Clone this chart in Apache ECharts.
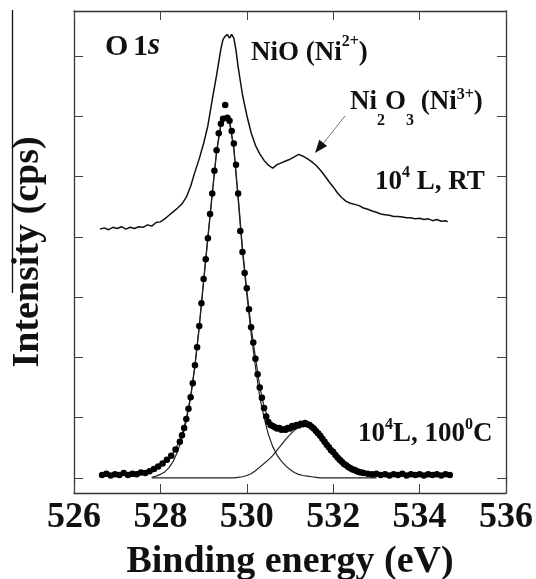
<!DOCTYPE html>
<html>
<head>
<meta charset="utf-8">
<script src="https://cdn.jsdelivr.net/npm/echarts@6.0.0/dist/echarts.min.js"></script>
<style>
html, body { margin: 0; padding: 0; background: #fff; }
#chart { width: 536px; height: 579px; }
</style>
</head>
<body>
<div id="chart"></div>
<script>
// O 1s spectra, intensity in tick units (arbitrary)
const xTicks = [526, 528, 530, 532, 534, 536];
const yTicks = [0, 1, 2, 3, 4, 5, 6, 7];

// 10^4 L, RT spectrum
const rtEnergy = [
  526.6, 526.7, 526.8, 526.9, 527.0, 527.1, 527.2, 527.3, 527.4, 527.5,
  527.6, 527.7, 527.8, 527.9, 528.0, 528.1, 528.2, 528.3, 528.4, 528.5,
  528.6, 528.7, 528.8, 528.9, 529.0, 529.1, 529.2, 529.3, 529.4, 529.45,
  529.5, 529.55, 529.6, 529.65, 529.7, 529.75, 529.8, 529.9, 530.0, 530.1,
  530.2, 530.3, 530.4, 530.5, 530.6, 530.7, 530.8, 530.9, 531.0, 531.1,
  531.2, 531.3, 531.4, 531.5, 531.6, 531.7, 531.8, 531.9, 532.0, 532.1,
  532.2, 532.3, 532.4, 532.5, 532.6, 532.7, 532.8, 532.9, 533.0, 533.1,
  533.2, 533.3, 533.4, 533.5, 533.6, 533.7, 533.8, 533.9, 534.0, 534.1,
  534.2, 534.3, 534.4, 534.5, 534.6, 534.65
];
const rtIntensity = [
  4.13, 4.15, 4.12, 4.16, 4.14, 4.17, 4.13, 4.16, 4.14, 4.17,
  4.16, 4.20, 4.18, 4.24, 4.25, 4.30, 4.36, 4.42, 4.48, 4.55,
  4.66, 4.84, 5.08, 5.30, 5.55, 5.85, 6.28, 6.68, 7.12, 7.28,
  7.33, 7.36, 7.30, 7.36, 7.30, 7.10, 6.82, 6.36, 6.02, 5.73,
  5.52, 5.38, 5.27, 5.19, 5.14, 5.20, 5.23, 5.26, 5.29, 5.33,
  5.37, 5.34, 5.30, 5.25, 5.19, 5.11, 5.02, 4.92, 4.83, 4.73,
  4.65, 4.59, 4.56, 4.54, 4.52, 4.48, 4.46, 4.43, 4.41, 4.38,
  4.37, 4.36, 4.34, 4.34, 4.33, 4.32, 4.32, 4.30, 4.31, 4.29,
  4.30, 4.27, 4.29, 4.26, 4.27, 4.25
];

// 10^4 L, 100 C measured points
const dotEnergy = [
  526.65, 526.75, 526.85, 526.95, 527.05, 527.15, 527.25, 527.35, 527.45, 527.55,
  527.65, 527.75, 527.85, 527.95, 528.05, 528.15, 528.25, 528.35, 528.45,
  528.50, 528.55, 528.60, 528.65, 528.70, 528.75, 528.80, 528.85, 528.90, 528.95,
  529.00, 529.05, 529.10, 529.15, 529.20, 529.25, 529.30, 529.35, 529.40, 529.45,
  529.50, 529.55, 529.60, 529.65, 529.70, 529.75, 529.80, 529.85, 529.90, 529.95,
  530.00, 530.05, 530.10, 530.15, 530.20, 530.25, 530.30, 530.35, 530.40, 530.45,
  530.50, 530.55, 530.60, 530.65, 530.70, 530.75, 530.80, 530.85, 530.90, 530.95,
  531.00, 531.05, 531.10, 531.15, 531.20, 531.25, 531.30, 531.35, 531.40, 531.45,
  531.50, 531.55, 531.60, 531.65, 531.70, 531.75, 531.80, 531.85, 531.90, 531.95,
  532.00, 532.05, 532.10, 532.15, 532.20, 532.25, 532.30, 532.35, 532.40, 532.45,
  532.50, 532.55, 532.60, 532.65, 532.70,
  532.80, 532.90, 533.00, 533.10, 533.20, 533.30, 533.40, 533.50, 533.60, 533.70,
  533.80, 533.90, 534.00, 534.10, 534.20, 534.30, 534.40, 534.50, 534.60, 534.70
];
const dotIntensity = [
  0.05, 0.07, 0.04, 0.06, 0.05, 0.08, 0.05, 0.07, 0.06, 0.09,
  0.08, 0.11, 0.15, 0.19, 0.24, 0.30, 0.37, 0.47, 0.60,
  0.71, 0.83, 0.98, 1.15, 1.34, 1.57, 1.87, 2.17, 2.52, 2.90,
  3.30, 3.63, 3.98, 4.38, 4.72, 5.10, 5.44, 5.72, 5.88, 5.96,
  6.19, 5.98, 5.93, 5.76, 5.55, 5.20, 4.72, 4.10, 3.75, 3.40,
  3.15, 2.80, 2.50, 2.25, 1.98, 1.72, 1.50, 1.33, 1.16, 1.02,
  0.93, 0.88, 0.86, 0.84, 0.82, 0.83, 0.80, 0.81, 0.80, 0.83,
  0.82, 0.86, 0.85, 0.88, 0.87, 0.90, 0.89, 0.91, 0.89, 0.88,
  0.85, 0.82, 0.78, 0.74, 0.70, 0.65, 0.60, 0.55, 0.51, 0.46,
  0.43, 0.38, 0.34, 0.30, 0.27, 0.23, 0.21, 0.18, 0.16, 0.14,
  0.13, 0.11, 0.10, 0.09, 0.08,
  0.07, 0.06, 0.07, 0.05, 0.06, 0.04, 0.06, 0.05, 0.07, 0.04,
  0.06, 0.05, 0.06, 0.04, 0.06, 0.05, 0.06, 0.04, 0.06, 0.05
];

// peak fit
const fitEnergy = [
  527.8, 527.9, 528.0, 528.1, 528.2, 528.3, 528.4, 528.5, 528.6, 528.7,
  528.8, 528.9, 529.0, 529.1, 529.2, 529.3, 529.4, 529.5, 529.6, 529.7,
  529.8, 529.9, 530.0, 530.1, 530.2, 530.3, 530.4, 530.5, 530.6, 530.7,
  530.8, 530.9, 531.0, 531.1, 531.2, 531.3, 531.4, 531.5, 531.6, 531.7,
  531.8, 531.9, 532.0, 532.1, 532.2, 532.3, 532.4, 532.5, 532.6, 532.7,
  532.8, 532.9, 533.0
];
const fitSum = [
  0.12, 0.15, 0.20, 0.26, 0.33, 0.42, 0.55, 0.72, 0.99, 1.36,
  1.88, 2.53, 3.28, 4.01, 4.73, 5.43, 5.88, 6.01, 5.93, 5.49,
  4.68, 3.82, 3.12, 2.50, 2.00, 1.52, 1.18, 0.98, 0.87, 0.83,
  0.81, 0.82, 0.84, 0.86, 0.89, 0.90, 0.89, 0.86, 0.79, 0.71,
  0.62, 0.54, 0.46, 0.38, 0.31, 0.25, 0.20, 0.16, 0.13, 0.10,
  0.08, 0.07, 0.06
];
const fitNiO = [
  0.01, 0.03, 0.06, 0.10, 0.17, 0.28, 0.44, 0.66, 0.95, 1.33,
  1.85, 2.50, 3.25, 3.98, 4.70, 5.40, 5.85, 5.98, 5.90, 5.45,
  4.62, 3.75, 3.05, 2.40, 1.85, 1.34, 1.00, 0.72, 0.52, 0.38,
  0.28, 0.20, 0.14, 0.09, 0.06, 0.04, 0.03, 0.02, 0.01, 0,
  0, 0, 0, 0, 0, 0, 0, 0, 0, 0,
  0, 0, 0
];
const fitNi2O3 = [
  0, 0, 0, 0, 0, 0, 0, 0, 0, 0,
  0, 0, 0, 0, 0, 0, 0, 0, 0, 0,
  0.01, 0.02, 0.04, 0.07, 0.12, 0.18, 0.24, 0.30, 0.37, 0.46,
  0.55, 0.64, 0.72, 0.79, 0.85, 0.88, 0.88, 0.85, 0.79, 0.71,
  0.62, 0.53, 0.44, 0.36, 0.28, 0.22, 0.17, 0.12, 0.08, 0.06,
  0.04, 0.02, 0.01
];

const zip = (xs, ys) => xs.map((x, i) => [x, ys[i]]);
const serif = 'Liberation Serif';

// lay out a run of text pieces (normal / super / subscript) left to right
const measure = document.createElement('canvas').getContext('2d');
function textRun(x, base, parts) {
  const out = [];
  parts.forEach(([str, size, rise, italic]) => {
    const font = (italic ? 'italic ' : '') + 'bold ' + size + 'px "' + serif + '"';
    out.push({
      type: 'text', x: x, y: base - (rise || 0) - 0.34 * size, z: 100,
      style: { text: str, fill: '#111', align: 'left', verticalAlign: 'middle', font: font }
    });
    measure.font = font;
    x += measure.measureText(str).width;
  });
  return out;
}

function frameAxis(extra) {
  return Object.assign({
    type: 'value',
    axisLine: { show: true, onZero: false, lineStyle: { color: '#333', width: 1.3 } },
    axisTick: { show: true, inside: true, length: 9, lineStyle: { color: '#444', width: 1 } },
    axisLabel: { show: false },
    splitLine: { show: false }
  }, extra);
}

const chart = echarts.init(document.getElementById('chart'));
chart.setOption({
  animation: false,
  backgroundColor: '#fff',
  grid: { left: 74, top: 11, width: 432, height: 482, containLabel: false, outerBoundsMode: 'none' },
  xAxis: [
    frameAxis({
      position: 'bottom', min: 526, max: 536, interval: 2,
      name: 'Binding energy (eV)', nameLocation: 'middle', nameGap: 50,
      nameTextStyle: { fontFamily: serif, fontWeight: 'bold', fontSize: 38, color: '#111' },
      axisLabel: {
        show: true, margin: 7, fontFamily: serif, fontWeight: 'bold', fontSize: 36, color: '#111',
        customValues: xTicks
      }
    }),
    frameAxis({ position: 'top', min: 526, max: 536, interval: 2 })
  ],
  yAxis: [
    frameAxis({
      position: 'left', min: -0.25, max: 7.75,
      name: 'Intensity (cps)', nameLocation: 'middle', nameGap: 27, nameRotate: 90,
      nameTextStyle: { fontFamily: serif, fontWeight: 'bold', fontSize: 38, color: '#111' },
      axisTick: { show: true, inside: true, length: 9, customValues: yTicks, lineStyle: { color: '#444', width: 1 } }
    }),
    frameAxis({
      position: 'right', min: -0.25, max: 7.75,
      axisTick: { show: true, inside: true, length: 9, customValues: yTicks, lineStyle: { color: '#444', width: 1 } }
    })
  ],
  series: [
    {
      name: '10^4 L, RT', type: 'line', data: zip(rtEnergy, rtIntensity),
      showSymbol: false, lineStyle: { color: '#111', width: 1.5 }, z: 3
    },
    {
      name: 'NiO fit', type: 'line', data: zip(fitEnergy, fitNiO),
      showSymbol: false, lineStyle: { color: '#222', width: 1.2 }, z: 3
    },
    {
      name: 'Ni2O3 fit', type: 'line', data: zip(fitEnergy, fitNi2O3),
      showSymbol: false, lineStyle: { color: '#222', width: 1.2 }, z: 3
    },
    {
      name: 'fit sum', type: 'line', data: zip(fitEnergy, fitSum),
      showSymbol: false, lineStyle: { color: '#222', width: 1.2 }, z: 3
    },
    {
      name: '10^4 L, 100 C', type: 'scatter', data: zip(dotEnergy, dotIntensity),
      symbol: 'circle', symbolSize: 6.5, itemStyle: { color: '#000', opacity: 1 }, z: 4
    }
  ],
  graphic: [
    { type: 'line', shape: { x1: 12.5, y1: 10, x2: 12.5, y2: 293 }, style: { stroke: '#111', lineWidth: 1.3 } },
    ...textRun(105, 57, [['O', 30]]),
    ...textRun(133, 57, [['1', 30], ['s', 31, 0, true]]),
    ...textRun(251, 62, [['NiO (Ni', 27], ['2+', 16, 15], [')', 27]]),
    ...textRun(350, 111, [['Ni', 27], ['2', 16, -15], ['O', 27], ['3', 16, -15], [' (Ni', 27], ['3+', 16, 11], [')', 27]]),
    ...textRun(375, 191, [['10', 27], ['4', 16, 13], [' L, RT', 27]]),
    ...textRun(358, 443, [['10', 27], ['4', 16, 13], ['L, 100', 27], ['0', 16, 13], ['C', 27]]),
    { type: 'line', shape: { x1: 345, y1: 116, x2: 322, y2: 145 }, style: { stroke: '#777', lineWidth: 1 } },
    { type: 'polygon', shape: { points: [[315, 153], [327.1, 146.1], [319.3, 139.8]] }, style: { fill: '#111' } }
  ]
});
</script>
</body>
</html>
